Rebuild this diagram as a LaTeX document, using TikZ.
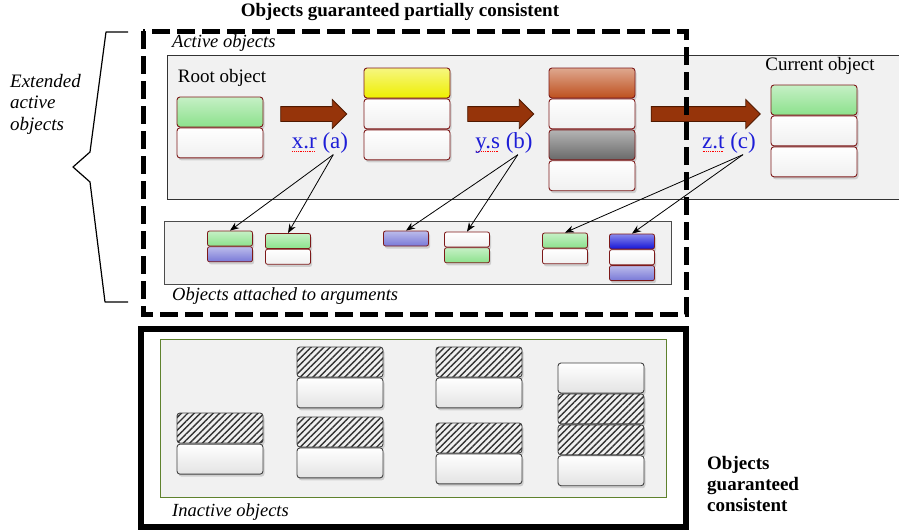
\documentclass[tikz,border=0pt]{standalone}
\usepackage{fontspec}
\setmainfont{Liberation Serif}
\usetikzlibrary{shapes.arrows, arrows.meta, positioning, shadows, patterns.meta}

\definecolor{objred}{RGB}{125,25,25}
\definecolor{objgreen}{RGB}{140,225,140}
\definecolor{objyellow}{RGB}{238,238,0}
\definecolor{objrust}{RGB}{190,80,30}
\definecolor{objgray}{RGB}{105,105,105}
\definecolor{objlav}{RGB}{120,120,215}
\definecolor{objblue}{RGB}{20,20,215}
\definecolor{arrowbrown}{RGB}{150,52,10}
\definecolor{arrowdark}{RGB}{80,25,0}
\definecolor{labelblue}{RGB}{30,30,215}
\definecolor{panelgray}{RGB}{241,241,241}
\definecolor{olive}{RGB}{95,130,45}

\newcommand{\spellmark}[1]{\setbox0\hbox{#1}\rlap{\raisebox{-3pt}{\textcolor{red}{\hbox to \wd0{\leaders\hbox to 1.8pt{\hss\rule{1pt}{0.7pt}\hss}\hfill}}}}#1}

\begin{document}
\begin{tikzpicture}[
    x=1pt, y=-1pt,
    obj/.style={rectangle, draw=objred, line width=0.9pt, rounded corners=3pt, minimum width=86pt, minimum height=30pt, inner sep=0pt,
        drop shadow={opacity=0.3, shadow xshift=1.5pt, shadow yshift=-2.5pt}},
    tint/.style={top color=#1!50!white, bottom color=#1},
    blank/.style={top color=white, bottom color=gray!12},
    small/.style={obj, minimum width=45pt, minimum height=15pt, rounded corners=2pt, line width=0.8pt},
    plain/.style={obj, draw=black!75, top color=white, bottom color=gray!22},
    hatched/.style={obj, draw=black!75, preaction={fill=gray!12}, pattern={Lines[angle=45, distance=4.5pt, line width=1.4pt]}, pattern color=black!80},
    bigarrow/.style={single arrow, draw=arrowdark, fill=arrowbrown, line width=0.8pt, inner xsep=0pt, inner ysep=7pt,
        single arrow head extend=7pt, minimum height=#1},
    panel/.style={fill=panelgray, draw=black!80, line width=0.8pt},
    call/.style={font=\fontsize{23}{25}\selectfont, text=labelblue, inner sep=1pt},
    note/.style={font=\fontsize{18.5}{21}\selectfont\itshape, inner sep=0pt, anchor=west},
    caption/.style={font=\fontsize{19}{21}\selectfont, inner sep=0pt},
    head/.style={font=\fontsize{19}{21}\selectfont\bfseries, inner sep=0pt, align=left},
    link/.style={-{Stealth[length=9pt, width=7pt]}, line width=0.8pt}
]
    \useasboundingbox (0,0) rectangle (899,531);

    % Panels
    \draw[panel] (167,55) rectangle (905,199);
    \draw[panel, draw=black!70] (164,221) rectangle (671,284);
    \draw[line width=6pt] (141,329) rectangle (686,527);
    \draw[fill=panelgray, draw=olive, line width=0.8pt] (160,339) rectangle (666,497);

    % Active objects
    \node[obj, tint=objgreen] (root1) at (220,112) {};
    \node[obj, blank, below=0pt of root1] (root2) {};
    \node[caption, above=10pt of root1, xshift=2pt] (rootlbl) {Root object};

    \node[obj, tint=objyellow] (x1) at (407,83) {};
    \node[obj, blank, below=0pt of x1] (x2) {};
    \node[obj, blank, below=0pt of x2] (x3) {};

    \node[obj, tint=objrust] (y1) at (592,83) {};
    \node[obj, blank, below=0pt of y1] (y2) {};
    \node[obj, tint=objgray, below=0pt of y2] (y3) {};
    \node[obj, blank, below=0pt of y3] (y4) {};

    \node[obj, tint=objgreen] (cur1) at (814,100) {};
    \node[obj, blank, below=0pt of cur1] (cur2) {};
    \node[obj, blank, below=0pt of cur2] (cur3) {};
    \node[caption, above=10pt of cur1, xshift=6pt] (curlbl) {Current object};

    % Block arrows
    \node[bigarrow=66pt] (arrA) at (310,114) {};
    \node[bigarrow=66pt] (arrB) at (497,114) {};
    \node[bigarrow=109pt] (arrC) at (702,114) {};

    \node[call] (xr) at (320,143) {\spellmark{x.r} (a)};
    \node[call] (ys) at (504,143) {\spellmark{y.s} (b)};
    \node[call] (zt) at (729,143) {\spellmark{z.t} (c)};

    % Objects attached to arguments
    \node[small, tint=objgreen] (a1) at (230,238.5) {};
    \node[small, tint=objlav, below=0pt of a1] (a1b) {};
    \node[small, tint=objgreen] (a2) at (288,241) {};
    \node[small, blank, below=0pt of a2] (a2b) {};
    \node[small, tint=objlav] (b1) at (406,238.5) {};
    \node[small, blank] (b2) at (467,239.5) {};
    \node[small, tint=objgreen, below=0pt of b2] (b2b) {};
    \node[small, tint=objgreen] (c1) at (565,240.5) {};
    \node[small, blank, below=0pt of c1] (c1b) {};
    \node[small, tint=objblue] (c2) at (632,241.5) {};
    \node[small, blank, below=0pt of c2] (c2b) {};
    \node[small, tint=objlav, below=0pt of c2b] (c2c) {};

    \draw[link] ([xshift=-16pt]xr.south east) -- (a1.north);
    \draw[link] ([xshift=-16pt]xr.south east) -- (a2.north);
    \draw[link] ([xshift=-16pt]ys.south east) -- (b1.north);
    \draw[link] ([xshift=-16pt]ys.south east) -- (b2.north);
    \draw[link] ([xshift=-14pt]zt.south east) -- (c1.north);
    \draw[link] ([xshift=-14pt]zt.south east) -- (c2.north);

    % Inactive objects
    \node[hatched] (i1) at (220,428) {};
    \node[plain, below=0pt of i1] (i1b) {};
    \node[hatched] (i2) at (340,362) {};
    \node[plain, below=0pt of i2] (i2b) {};
    \node[hatched] (i3) at (340,432) {};
    \node[plain, below=0pt of i3] (i3b) {};
    \node[hatched] (i4) at (479,362) {};
    \node[plain, below=0pt of i4] (i4b) {};
    \node[hatched] (i5) at (479,438) {};
    \node[plain, below=0pt of i5] (i5b) {};
    \node[plain] (i6) at (601,378) {};
    \node[hatched, below=0pt of i6] (i6b) {};
    \node[hatched, below=0pt of i6b] (i6c) {};
    \node[plain, below=0pt of i6c] (i6d) {};

    % Frame of the partially consistent part
    \draw[line width=5pt, dash pattern=on 18pt off 7pt] (143,31) rectangle (686,314);

    % Texts
    \node[head] (partial) at (400,12) {Objects guaranteed partially consistent};
    \node[note] (active) at (172,43) {Active objects};
    \node[note] (attached) at (172,296) {Objects attached to arguments};
    \node[note] (inactive) at (172,512) {Inactive objects};
    \node[note, align=left, font=\fontsize{19}{21.5}\selectfont\itshape] (extended) at (10,104) {Extended\\active\\objects};
    \node[head, anchor=west] (consistent) at (707,484) {Objects\\guaranteed\\consistent};

    % Brace
    \draw[line width=1.2pt, line join=round] (128,32) -- (106,32) -- (90,152) -- (73,167) -- (90,182) -- (105,302) -- (128,302);
\end{tikzpicture}
\end{document}
